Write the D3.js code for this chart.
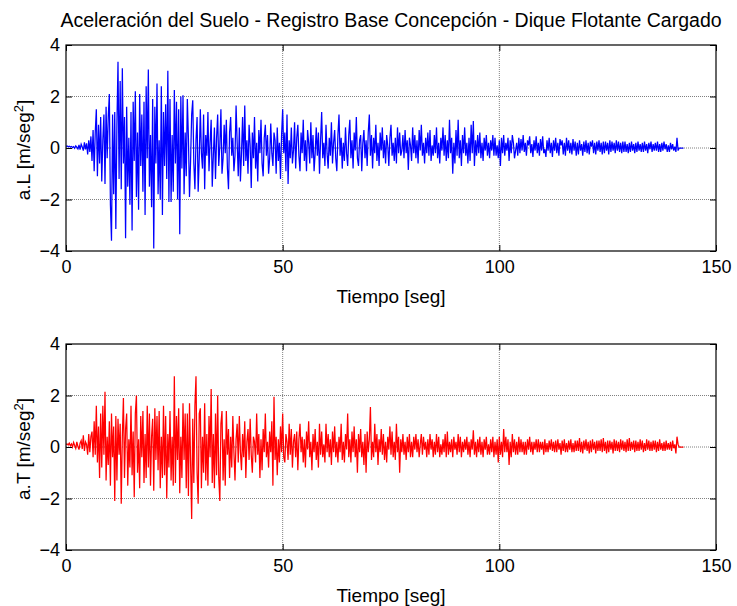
<!DOCTYPE html>
<html>
<head>
<meta charset="utf-8">
<script src="https://cdn.jsdelivr.net/npm/d3@7"></script>
<style>
  body { margin: 0; background: #ffffff; }
  text { font-family: "Liberation Sans", Arial, Helvetica, sans-serif; fill: #000; }
</style>
</head>
<body>
<svg id="fig" width="737" height="606"></svg>
<script>
// Ground acceleration record, sampled every 0.25 s (m/seg^2)
const sampleStep = 0.25;

// Longitudinal component (a.L)
const accelL = [
  0.06, 0.08, 0.05, 0.07,  0.04, 0.06, 0.02, 0.05,  -0.01, 0.08, 0.03, -0.04,  0.12, -0.06, 0.15, 0.04,
  -0.10, 0.22, -0.05, 0.18,  -0.25, 0.30, -0.15, 0.45,  -0.50, 0.70, -0.90, 0.60,  1.50, -1.10, 0.90, -0.60,
  1.20, -1.30, 0.30, 1.30,  -1.40, 1.60, -0.40, 1.20,  2.10, -2.20, -3.60, 1.30,  -1.80, 1.40, -3.15, 0.90,
  3.35, -1.20, 2.60, -1.60,  3.10, -0.60, 1.20, -3.50,  1.60, -1.50, 0.40, -2.20,  1.40, -3.20, 1.80, -0.50,
  2.20, -1.90, 0.60, -2.40,  2.10, -0.70, 1.30, -1.70,  1.80, -2.60, 2.40, -0.40,  3.05, -1.50, 0.50, -2.30,
  1.90, -3.90, 1.60, -0.60,  2.50, -1.80, 0.30, -2.00,  2.40, -2.60, 1.40, -0.70,  1.70, -1.20, 3.00, -2.10,
  1.90, -2.10, 0.50, -1.70,  2.25, -0.60, 1.80, -2.00,  1.50, -3.35, 2.00, -0.80,  2.05, -1.80, 0.60, -1.10,
  1.90, 0.40, -1.90, -0.50,  1.30, 1.85, -0.60, -1.60,  0.30, 1.20, -1.70, -0.40,  1.50, -0.20, -0.80, 1.30,
  -1.60, 0.50, -0.30, 1.40,  -0.90, 0.20, 1.10, -1.50,  -0.30, 0.80, -1.20, 0.40,  1.30, -0.70, 0.10, 1.50,
  -1.00, -0.40, 0.90, -0.20,  1.10, -0.80, -1.60, 0.60,  1.20, -0.30, 0.40, -0.90,  -0.30, 1.65, 0.20, -1.10,
  0.80, -1.30, -0.20, 1.20,  -0.70, 1.65, -0.50, 0.30,  -1.00, 0.90, 0.10, -1.55,  0.60, -0.40, 1.20, -0.80,
  0.20, -1.30, 0.70, -0.20,  1.10, -0.60, -1.10, 0.40,  0.90, -0.30, 0.50, -1.00,  -0.40, 0.95, -0.20, -0.70,
  0.60, 0.30, -1.00, 0.80,  -0.50, 0.20, -1.20, 0.50,  1.50, -0.20, 0.60, -0.90,  1.30, -1.40, 0.30, -0.40,
  0.80, -0.60, -0.10, 1.00,  -0.80, 0.40, 0.90, -0.30,  -0.90, 0.60, -0.20, 1.10,  -0.50, 0.30, -0.90, 0.70,
  0.20, -0.60, 1.00, -0.40,  0.50, -0.90, -0.20, 0.80,  -0.30, 0.60, -1.00, 0.30,  1.40, -0.40, 0.20, -0.70,
  0.90, -0.20, -0.80, 0.40,  -0.30, 1.00, -0.60, 0.20,  0.70, -0.40, -0.90, 0.50,  1.30, -0.30, 0.40, -0.80,
  0.20, -0.50, 0.80, -0.20,  -0.70, 0.50, 1.10, -0.40,  0.30, -0.80, 0.60, -0.10,  1.20, -0.40, -0.70, 0.30,
  0.50, -0.90, 0.20, 0.70,  -0.40, 0.30, -0.70, 0.60,  1.30, -0.30, 0.50, -0.80,  0.40, -0.20, 0.90, -0.50,
  0.20, -0.70, 0.60, -0.10,  0.80, -0.40, 0.30, -0.60,  0.50, 0.10, -0.70, 0.40,  0.90, -0.30, 0.20, -0.50,
  0.40, -0.60, 0.80, -0.20,  0.60, -0.30, -0.10, 0.50,  -0.40, 0.70, -0.20, 0.30,  -0.85, 0.40, 0.10, -0.50,
  0.80, -0.20, 0.50, -0.40,  0.30, -0.60, 0.70, -0.10,  0.90, -0.30, 0.20, -0.60,  0.40, -0.20, 0.60, -0.30,
  0.70, -0.50, 0.10, -0.30,  0.50, -0.20, 0.80, -0.40,  0.20, -0.60, 0.40, -0.10,  0.80, -0.30, 0.50, -0.50,
  0.30, -0.40, 1.10, -0.20,  0.40, -1.00, 0.20, -0.60,  0.70, -0.30, 1.10, -0.40,  0.30, -0.70, 0.50, -0.20,
  0.80, -0.30, 0.20, -0.60,  0.40, -0.50, 0.90, -0.20,  1.05, -0.70, 0.30, -0.30,  0.50, -0.20, 0.60, -0.40,
  0.20, -0.50, 0.40, -0.10,  0.50, -0.30, 0.20, -0.40,  0.30, -0.10, 0.50, -0.30,  0.40, -0.30, 0.10, -0.40,
  0.30, -0.70, 0.40, -0.20,  0.50, -0.30, 0.20, -0.10,  0.40, -0.50, 0.30, -0.20,  0.50, 0.20, -0.40, -0.10,
  0.20, -0.30, 0.40, -0.20,  0.35, -0.10, 0.50, -0.15,  0.20, -0.30, 0.30, 0.10,  0.45, -0.20, 0.15, -0.35,
  0.30, -0.10, 0.45, -0.20,  0.20, -0.30, 0.35, -0.10,  0.45, -0.20, -0.05, -0.35,  0.30, -0.10, 0.40, -0.20,
  0.20, -0.35, 0.30, -0.10,  0.40, -0.20, 0.20, -0.30,  0.35, 0.10, 0.30, -0.25,  0.20, -0.30, 0.40, -0.10,
  0.30, -0.20, 0.20, -0.25,  0.35, -0.10, 0.25, -0.30,  0.20, -0.25, 0.30, -0.10,  0.15, -0.30, 0.25, -0.15,
  0.30, -0.20, 0.20, -0.25,  0.25, 0.05, 0.30, -0.20,  0.20, -0.25, 0.25, -0.10,  0.30, -0.15, 0.20, -0.25,
  0.25, -0.20, 0.25, -0.10,  0.20, -0.25, 0.30, -0.15,  0.25, -0.10, 0.20, -0.20,  0.30, -0.10, 0.25, -0.15,
  0.20, -0.20, 0.25, -0.15,  0.25, -0.15, 0.15, -0.20,  0.20, -0.15, 0.25, -0.10,  0.15, -0.20, 0.20, -0.15,
  0.25, -0.10, 0.15, -0.15,  0.20, -0.15, 0.25, -0.10,  0.15, -0.20, 0.20, -0.05,  0.25, -0.15, 0.15, -0.10,
  0.20, -0.10, 0.25, -0.15,  0.15, -0.15, 0.20, -0.10,  0.25, -0.05, 0.15, -0.15,  0.10, -0.15, 0.20, -0.05,
  0.15, -0.10, 0.05, -0.15,  0.40, -0.10, 0.00, 0.00,  0.00, 0.00, 0.00
];

// Transverse component (a.T)
const accelT = [
  0.10, 0.12, 0.08, 0.15,  0.05, 0.12, 0.00, 0.18,  0.06, -0.05, 0.20, 0.02,  -0.10, 0.15, 0.25, -0.08,
  0.45, -0.15, 0.20, 0.10,  -0.30, 0.50, -0.20, 0.40,  0.60, -0.40, 1.00, -0.30,  1.60, -0.60, 0.80, -1.20,
  1.30, -0.80, 1.60, -0.30,  2.15, -1.30, 0.40, -0.70,  1.00, -1.50, 1.30, -0.40,  0.80, -2.10, 1.20, -1.30,
  1.10, -0.30, 0.90, -2.20,  0.40, 1.90, -1.20, 0.70,  1.30, -1.50, 0.30, -0.80,  1.60, -1.10, 0.60, -1.95,
  1.30, 2.00, -1.00, 0.30,  -1.60, 1.20, -0.40, 1.40,  -1.40, 0.50, -1.20, 1.60,  -0.80, 1.30, -1.50, 0.40,
  1.10, -1.70, 1.50, -0.50,  1.20, -0.90, 1.40, -1.60,  0.40, -1.20, 1.60, -1.10,  1.20, -2.00, 0.50, -0.80,
  1.40, -1.30, 0.40, -1.50,  2.75, -1.40, 1.20, -0.50,  1.50, -1.80, 0.40, -1.20,  1.70, -0.50, 1.30, -1.60,
  1.30, -1.90, 1.70, -0.60,  -2.80, 1.10, -1.40, 1.60,  2.75, -1.00, -2.20, 1.30,  1.50, -1.60, 0.40, -1.00,
  1.70, -1.30, 0.50, -1.50,  1.20, -0.40, 2.25, -1.40,  0.50, -1.60, 1.30, -1.10,  2.00, -1.20, -2.10, 0.90,
  1.40, -1.30, 0.30, -1.50,  1.40, -0.30, 0.70, -1.20,  0.40, -0.80, 1.20, -0.20,  -1.30, 0.30, 0.90, -0.60,
  1.20, -0.20, -0.90, 0.50,  -0.40, 1.00, -1.20, 0.20,  0.70, -0.50, 1.10, -0.30,  -1.00, 0.40, 0.20, -0.60,
  1.30, -0.30, 0.50, -1.20,  0.30, -0.90, 0.70, -0.20,  1.30, -0.40, 0.20, -0.80,  0.60, -0.20, 1.00, -1.50,
  1.95, -0.50, 0.40, -1.10,  0.30, -0.60, 0.80, -0.20,  1.30, -0.40, -0.60, 0.50,  0.20, -0.50, 0.90, -0.30,
  0.70, -0.80, 0.20, 0.50,  -0.40, 0.60, -0.90, 0.30,  0.90, -0.20, 0.40, -0.60,  0.30, -0.80, 0.60, -0.10,
  1.00, -0.40, 0.20, -0.90,  0.50, -0.20, 0.70, -0.50,  0.20, -0.80, 0.90, -0.30,  0.60, -0.40, 0.10, -0.60,
  0.90, -0.20, 0.50, -0.40,  0.30, -0.70, 0.60, -0.20,  0.80, -0.40, 0.20, -0.60,  0.40, -0.20, 0.90, -0.50,
  0.20, -0.60, 0.50, -0.10,  1.30, -0.40, 0.30, -0.60,  0.60, -0.20, 0.80, -0.40,  0.30, -1.00, 0.50, -0.20,
  0.70, -0.40, 0.20, -0.70,  0.50, -1.00, 0.60, -0.20,  0.30, 1.55, -0.50, 0.20,  -0.40, 0.90, -0.20, 0.50,
  -0.70, 0.30, -0.20, 0.70,  -0.30, 0.50, -0.50, 0.20,  -0.60, 0.40, -0.10, 0.80,  -0.30, 0.60, -0.40, 0.20,
  -0.50, 0.90, -0.20, 0.40,  -1.00, 0.30, -0.20, 0.50,  -0.30, 0.20, -0.50, 0.40,  -0.20, 0.50, -0.40, 0.20,
  -0.40, 0.40, -0.10, 0.50,  -0.20, 0.30, -0.40, 0.10,  0.50, -0.30, 0.40, -0.10,  0.20, -0.40, 0.30, -0.30,
  0.50, -0.10, 0.30, -0.40,  0.20, -0.30, 0.50, -0.20,  0.40, -0.40, 0.10, -0.30,  0.30, -0.20, 0.50, -0.40,
  0.60, -0.30, 0.20, -0.20,  0.30, -0.40, 0.40, -0.10,  0.20, -0.30, 0.50, -0.20,  0.40, -0.40, 0.20, -0.20,
  0.30, -0.10, 0.40, -0.30,  0.20, -0.40, 0.30, -0.10,  0.65, -0.30, 0.20, -0.40,  0.30, -0.20, 0.40, -0.30,
  0.20, -0.40, 0.30, -0.10,  0.40, -0.30, 0.10, -0.30,  0.30, -0.20, 0.40, -0.40,  0.20, -0.30, 0.30, -0.60,
  0.40, -0.30, 0.20, -0.40,  0.70, -0.20, 0.40, -0.20,  0.30, -0.70, 0.20, -0.40,  0.50, -0.20, 0.30, -0.30,
  0.20, -0.30, 0.40, -0.20,  0.30, -0.20, 0.20, -0.30,  0.20, -0.30, 0.30, -0.10,  0.40, -0.20, 0.20, -0.30,
  0.20, -0.10, 0.30, -0.20,  0.30, -0.20, 0.20, -0.10,  0.20, -0.30, 0.30, -0.20,  0.15, -0.20, 0.25, -0.10,
  0.30, -0.15, 0.20, -0.20,  0.25, -0.20, 0.30, -0.10,  0.15, -0.30, 0.25, -0.15,  0.30, -0.20, 0.15, -0.20,
  0.25, -0.10, 0.30, -0.20,  0.15, -0.20, 0.25, -0.15,  0.25, -0.15, 0.35, -0.20,  0.20, -0.25, 0.25, -0.10,
  0.30, -0.15, 0.20, -0.25,  0.25, -0.20, 0.30, -0.10,  0.20, -0.25, 0.25, -0.15,  0.25, -0.15, 0.30, -0.20,
  0.35, -0.15, 0.20, -0.25,  0.25, -0.20, 0.25, -0.10,  0.20, -0.25, 0.30, -0.15,  0.25, -0.15, 0.20, -0.20,
  0.30, -0.10, 0.25, -0.15,  0.20, -0.20, 0.30, -0.15,  0.35, -0.15, 0.20, -0.10,  0.25, -0.20, 0.25, -0.15,
  0.20, -0.15, 0.30, -0.10,  0.25, -0.20, 0.15, -0.15,  0.30, -0.10, 0.25, -0.15,  0.20, -0.15, 0.25, -0.10,
  0.25, -0.20, 0.20, -0.15,  0.30, -0.10, 0.15, -0.15,  0.20, -0.15, 0.25, -0.10,  0.15, -0.10, 0.20, -0.15,
  0.25, -0.05, 0.10, -0.25,  0.40, 0.10, 0.00, 0.00,  0.00, 0.00, 0.00
];

const xTicks = [0, 50, 100, 150];
const yTicks = [-4, -2, 0, 2, 4];
const titleText = "Aceleración del Suelo - Registro Base Concepción - Dique Flotante Cargado";
const xLabelText = "Tiempo [seg]";
const yLabels = ["a.L", "a.T"];
const lineColors = ["#0000ff", "#ff0000"];

// ---- layout ----
const svg = d3.select("#fig");
const left = 66, right = 716;
const panelTops = [45, 344];
const panelHeight = 206;
const tickLen = 6;
const tickFont = 18, labelFont = 19;

const x = d3.scaleLinear().domain([0, 150]).range([left, right]);

svg.append("text")
  .attr("x", (left + right) / 2).attr("y", 27)
  .attr("text-anchor", "middle")
  .style("font-size", "19.5px")
  .text(titleText);

[accelL, accelT].forEach((series, p) => {
  const top = panelTops[p], bottom = top + panelHeight;
  const y = d3.scaleLinear().domain([-4, 4]).range([bottom, top]);
  const g = svg.append("g");

  // dotted grid at interior ticks
  g.append("g").selectAll("line").data(xTicks.filter(t => t > 0 && t < 150)).join("line")
    .attr("x1", d => x(d)).attr("x2", d => x(d)).attr("y1", top).attr("y2", bottom)
    .attr("stroke", "#808080").attr("stroke-width", 1).attr("stroke-dasharray", "1,1");
  g.append("g").selectAll("line").data(yTicks.filter(t => t > -4 && t < 4)).join("line")
    .attr("y1", d => y(d)).attr("y2", d => y(d)).attr("x1", left).attr("x2", right)
    .attr("stroke", "#808080").attr("stroke-width", 1).attr("stroke-dasharray", "1,1");

  // signal trace
  const clipId = "clip" + p;
  svg.append("clipPath").attr("id", clipId).append("rect")
    .attr("x", left).attr("y", top).attr("width", right - left).attr("height", panelHeight);
  const line = d3.line().x((d, i) => x(i * sampleStep)).y(d => y(d));
  g.append("path").datum(series)
    .attr("clip-path", `url(#${clipId})`)
    .attr("fill", "none").attr("stroke", lineColors[p]).attr("stroke-width", 1.25)
    .attr("d", line);

  // axes with inward ticks on all four sides
  const styleAxis = sel => {
    sel.select(".domain").remove();
    sel.selectAll(".tick line").attr("stroke", "#000");
    sel.selectAll("text").style("font-size", tickFont + "px")
      .style("font-family", '"Liberation Sans", Arial, sans-serif');
  };
  g.append("g").attr("transform", `translate(0,${bottom})`)
    .call(d3.axisBottom(x).tickValues(xTicks).tickFormat(d3.format("d"))
      .tickSizeInner(-tickLen).tickSizeOuter(0).tickPadding(9))
    .call(styleAxis);
  g.append("g").attr("transform", `translate(0,${top})`)
    .call(d3.axisTop(x).tickValues(xTicks).tickFormat("").tickSizeInner(-tickLen).tickSizeOuter(0))
    .call(styleAxis);
  g.append("g").attr("transform", `translate(${left},0)`)
    .call(d3.axisLeft(y).tickValues(yTicks).tickFormat(d3.format("d"))
      .tickSizeInner(-tickLen).tickSizeOuter(0).tickPadding(6))
    .call(styleAxis);
  g.append("g").attr("transform", `translate(${right},0)`)
    .call(d3.axisRight(y).tickValues(yTicks).tickFormat("").tickSizeInner(-tickLen).tickSizeOuter(0))
    .call(styleAxis);

  // box
  g.append("rect").attr("x", left).attr("y", top).attr("width", right - left).attr("height", panelHeight)
    .attr("fill", "none").attr("stroke", "#000").attr("stroke-width", 1.2);

  // axis labels
  g.append("text")
    .attr("x", (left + right) / 2).attr("y", bottom + 52)
    .attr("text-anchor", "middle").style("font-size", labelFont + "px")
    .text(xLabelText);
  const yl = g.append("text")
    .attr("transform", `translate(30,${(top + bottom) / 2 + 2}) rotate(-90)`)
    .attr("text-anchor", "middle").style("font-size", labelFont + "px");
  yl.append("tspan").text(yLabels[p] + " [m/seg");
  yl.append("tspan").attr("dy", -7).style("font-size", "13px").text("2");
  yl.append("tspan").attr("dy", 7).text("]");
});
</script>
</body>
</html>
